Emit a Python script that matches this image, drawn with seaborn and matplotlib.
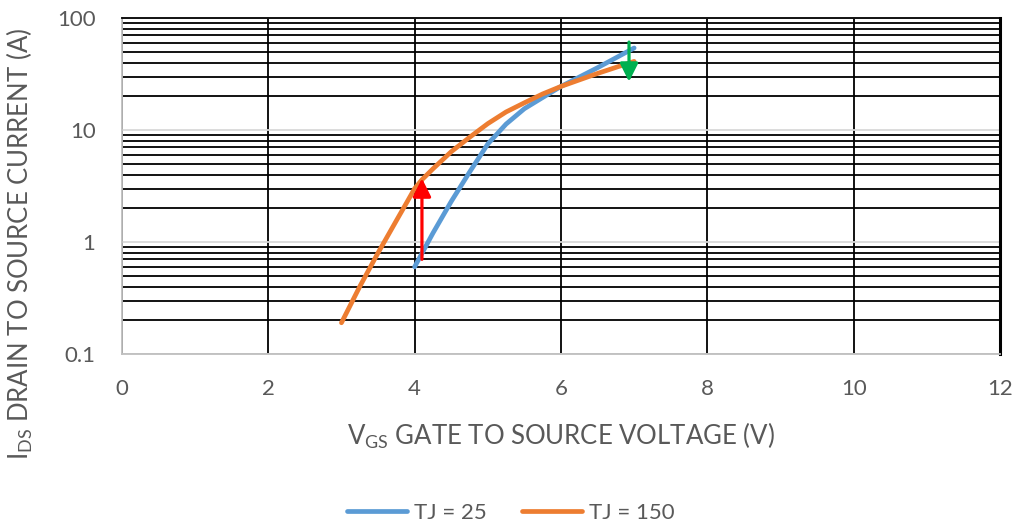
import matplotlib
matplotlib.use("Agg")
import matplotlib.pyplot as plt
import matplotlib.ticker as mticker
import seaborn as sns
import pandas as pd

# values
vgs_25 = [4.0, 4.25, 4.5, 4.75, 5.0, 5.25, 5.5, 5.75, 6.0, 6.5, 7.0]
ids_25 = [0.6, 1.2, 2.3, 4.2, 7.5, 11.3, 15.5, 19.5, 24.5, 36, 54]
vgs_150 = [3.0, 3.25, 3.5, 3.75, 3.9, 4.0, 4.1, 4.25, 4.5, 4.75, 5.0, 5.25, 5.5, 5.75, 6.0, 6.5, 7.0]
ids_150 = [0.19, 0.4, 0.8, 1.55, 2.3, 3.0, 3.6, 4.5, 6.4, 8.6, 11.4, 14.5, 17.5, 21, 24.5, 32, 41]
series_names = ["TJ = 25", "TJ = 150"]

# arrows: (x, from, to)
red_arrow = (4.1, 0.7, 3.7)
green_arrow = (6.93, 61, 27)

x_ticks = [0, 2, 4, 6, 8, 10, 12]
y_ticks = [0.1, 1, 10, 100]
y_tick_labels = ["0.1", "1", "10", "100"]

df = pd.concat([
    pd.DataFrame({"vgs": vgs_25, "ids": ids_25, "series": series_names[0]}),
    pd.DataFrame({"vgs": vgs_150, "ids": ids_150, "series": series_names[1]}),
])

sns.set_style("white")
plt.rcParams["font.family"] = ["Lato", "DejaVu Sans"]
plt.rcParams["mathtext.fontset"] = "custom"
plt.rcParams["mathtext.rm"] = "Lato"

grey_text = "#595959"
fig = plt.figure(figsize=(10.18, 5.27), dpi=100)
ax = fig.add_axes([0.1198, 0.3283, 0.8625, 0.6375])

ax.set_yscale("log")
ax.set_xlim(0, 12)
ax.set_ylim(0.1, 100)

# grid: black minor lines, light grey decades
ax.yaxis.set_minor_locator(mticker.LogLocator(base=10, subs=range(2, 10)))
ax.grid(which="minor", axis="y", color="black", lw=1.3)
ax.set_yticks(y_ticks)
ax.set_yticklabels(y_tick_labels)
ax.grid(which="major", axis="y", color="#D9D9D9", lw=1.3)
ax.set_xticks(x_ticks)
ax.grid(which="major", axis="x", color="black", lw=1.3)
ax.set_axisbelow(True)

sns.lineplot(data=df, x="vgs", y="ids", hue="series", palette=["#5B9BD5", "#ED7D31"],
             lw=3.4, ax=ax, sort=False, legend=True, zorder=3)

for arr, col in [(red_arrow, "#FF0000"), (green_arrow, "#00B050")]:
    ax.annotate("", xy=(arr[0], arr[2]), xytext=(arr[0], arr[1]),
                arrowprops=dict(arrowstyle="-|>,head_length=1.1,head_width=0.55", color=col,
                                lw=2.3, shrinkA=0, shrinkB=0), zorder=4)

for side in ["left", "bottom"]:
    ax.spines[side].set_color("#BFBFBF")
    ax.spines[side].set_linewidth(1.3)
ax.spines["top"].set_color("black")
ax.spines["top"].set_linewidth(1.3)
ax.spines["right"].set_color("black")
ax.spines["right"].set_linewidth(2.2)

ax.tick_params(which="both", length=0, labelsize=16, labelcolor=grey_text)
ax.tick_params(axis="x", pad=18)
ax.tick_params(axis="y", pad=19)

ax.set_xlabel(r"$\mathrm{V_{GS}}$ GATE TO SOURCE VOLTAGE (V)", fontsize=18.5, color=grey_text, labelpad=16)
ax.set_ylabel(r"$\mathrm{I_{DS}}$ DRAIN TO SOURCE CURRENT (A)", fontsize=18.5, color=grey_text)
ax.yaxis.set_label_coords(-0.099, 0.327)

handles, labels = ax.get_legend_handles_labels()
ax.legend(handles, labels, loc="center", bbox_to_anchor=(0.502, 0.0266), bbox_transform=fig.transFigure,
          ncol=2, frameon=False, fontsize=16, handlelength=2.7, handletextpad=0.3,
          columnspacing=1.6, labelcolor=grey_text)

fig.savefig("out.png", dpi=100)
